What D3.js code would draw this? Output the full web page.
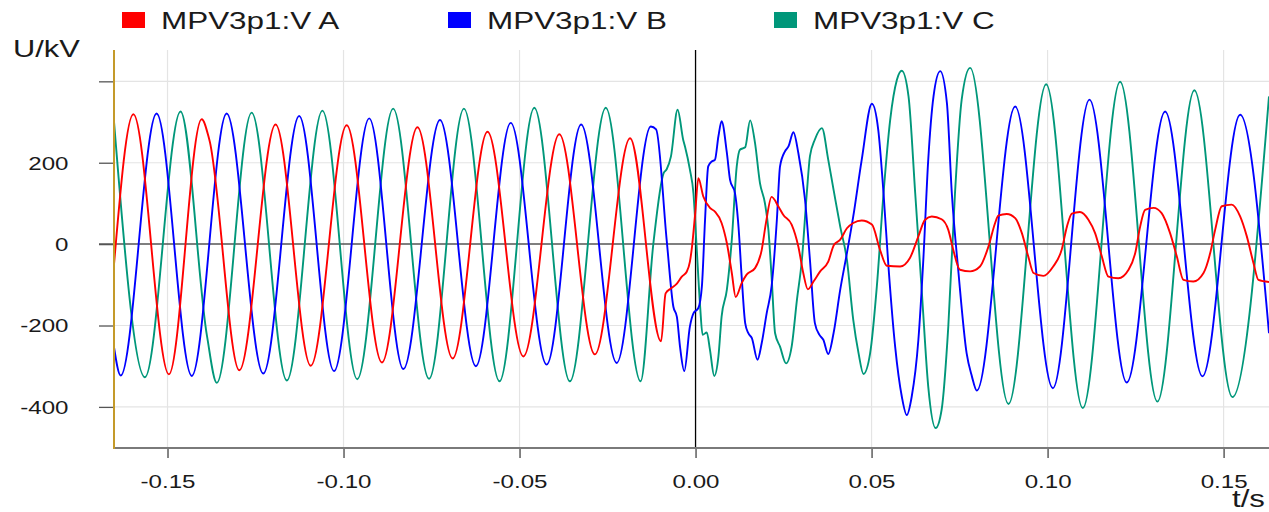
<!DOCTYPE html>
<html>
<head>
<meta charset="utf-8">
<title>MPV3p1 voltages</title>
<script src="https://d3js.org/d3.v7.min.js"></script>
<style>
  body { margin: 0; background: #fff; }
  text { font-family: "Liberation Sans", Arial, sans-serif; fill: #1a1a1a; }
</style>
</head>
<body>
<svg id="chart" width="1269" height="512"></svg>
<script>
// [t in s, U in kV]
var phaseA = [
  [-0.1652,-50],[-0.1597,319],[-0.1496,-320],[-0.1403,307],[-0.1381,256],[-0.1296,-310],[-0.1193,294],
  [-0.1093,-299],[-0.0991,292],[-0.0891,-291],[-0.0790,287],[-0.0690,-281],[-0.0591,276],[-0.0489,-276],
  [-0.0387,270],[-0.0286,-271],[-0.0186,260],[-0.0098,-239],[-0.0085,-121],[-0.0070,-109],[-0.0053,-97],
  [-0.0039,-80],[-0.0025,-68],[-0.0016,-43],[-0.0010,-6],[-0.0001,76],[0.0008,162],[0.0022,117],
  [0.0041,89],[0.0055,80],[0.0074,52],[0.0089,2],[0.0103,-71],[0.0114,-130],[0.0131,-96],[0.0145,-75],
  [0.0169,-59],[0.0188,-14],[0.0200,52],[0.0216,116],[0.0235,93],[0.0249,72],[0.0273,48],[0.0292,-6],
  [0.0306,-71],[0.0319,-111],[0.0335,-92],[0.0354,-67],[0.0377,-43],[0.0393,-2],[0.0411,11],[0.0430,39],
  [0.0448,52],[0.0472,58],[0.0501,48],[0.0524,-14],[0.0543,-53],[0.0581,-55],[0.0609,-34],[0.0633,19],
  [0.0652,60],[0.0671,68],[0.0699,61],[0.0718,35],[0.0732,-14],[0.0751,-63],[0.0780,-67],[0.0808,-55],
  [0.0832,-6],[0.0851,52],[0.0860,70],[0.0884,74],[0.0908,64],[0.0927,27],[0.0945,-30],[0.0960,-71],
  [0.0988,-78],[0.1016,-55],[0.1040,-14],[0.1055,43],[0.1069,75],[0.1092,79],[0.1116,60],[0.1135,27],
  [0.1154,-30],[0.1173,-80],[0.1201,-84],[0.1230,-63],[0.1249,-22],[0.1263,43],[0.1277,84],[0.1301,89],
  [0.1324,76],[0.1348,27],[0.1367,-30],[0.1386,-88],[0.1414,-92],[0.1443,-71],[0.1462,-22],[0.1476,35],
  [0.1495,93],[0.1523,97],[0.1547,68],[0.1566,19],[0.1585,-47],[0.1599,-88],[0.1629,-93]
];
var phaseB = [
  [-0.1652,-253],[-0.1633,-323],[-0.1531,321],[-0.1431,-324],[-0.1332,321],[-0.1228,-318],[-0.1126,315],
  [-0.1027,-312],[-0.0927,309],[-0.0830,-307],[-0.0726,305],[-0.0624,-300],[-0.0525,298],[-0.0423,-296],
  [-0.0325,294],[-0.0224,-292],[-0.0127,289],[-0.0112,282],[-0.0082,10],[-0.0063,-154],[-0.0053,-179],
  [-0.0044,-253],[-0.0032,-312],[-0.0016,-202],[-0.0006,-170],[0.0008,-157],[0.0018,-104],[0.0027,60],
  [0.0036,191],[0.0046,203],[0.0055,207],[0.0065,265],[0.0074,302],[0.0089,224],[0.0098,158],[0.0112,125],
  [0.0122,43],[0.0131,-80],[0.0141,-194],[0.0150,-219],[0.0160,-231],[0.0176,-284],[0.0188,-243],
  [0.0202,-170],[0.0216,-104],[0.0231,60],[0.0240,191],[0.0254,228],[0.0264,240],[0.0278,275],[0.0292,224],
  [0.0311,109],[0.0325,-39],[0.0339,-194],[0.0352,-223],[0.0363,-235],[0.0377,-270],[0.0392,-219],
  [0.0411,-112],[0.0430,-22],[0.0448,68],[0.0472,207],[0.0501,345],[0.0519,281],[0.0534,125],[0.0548,-55],
  [0.0567,-252],[0.0586,-375],[0.0600,-420],[0.0614,-375],[0.0633,-235],[0.0647,-39],[0.0661,207],
  [0.0676,363],[0.0695,425],[0.0714,347],[0.0728,125],[0.0747,-71],[0.0770,-268],[0.0785,-325],[0.0799,-360],
  [0.0908,338],[0.1015,-354],[0.1119,355],[0.1225,-340],[0.1334,326],[0.1440,-325],[0.1547,318],[0.1629,-219]
];
var phaseC = [
  [-0.1652,301],[-0.1564,-327],[-0.1463,326],[-0.1388,-225],[-0.1360,-341],[-0.1261,323],[-0.1161,-335],
  [-0.1060,328],[-0.0961,-332],[-0.0859,333],[-0.0757,-331],[-0.0658,333],[-0.0557,-337],[-0.0458,335],
  [-0.0357,-337],[-0.0255,335],[-0.0156,-337],[-0.0120,0],[-0.0091,174],[-0.0082,184],[-0.0070,215],
  [-0.0051,330],[-0.0035,256],[-0.0030,240],[-0.0016,183],[-0.0006,125],[0.0003,-6],[0.0013,-153],
  [0.0020,-223],[0.0032,-217],[0.0041,-260],[0.0053,-324],[0.0065,-276],[0.0074,-178],[0.0089,-112],
  [0.0103,11],[0.0117,191],[0.0126,232],[0.0141,238],[0.0155,304],[0.0169,248],[0.0183,150],[0.0197,101],
  [0.0207,35],[0.0216,-80],[0.0226,-219],[0.0240,-252],[0.0257,-293],[0.0273,-252],[0.0288,-137],
  [0.0302,-39],[0.0316,125],[0.0325,216],[0.0339,257],[0.0359,285],[0.0377,207],[0.0392,134],[0.0411,43],
  [0.0430,-39],[0.0448,-186],[0.0463,-268],[0.0477,-319],[0.0496,-268],[0.0515,-104],[0.0534,125],
  [0.0553,306],[0.0572,404],[0.0586,426],[0.0605,363],[0.0624,125],[0.0643,-120],[0.0661,-350],
  [0.0682,-452],[0.0699,-407],[0.0718,-202],[0.0737,125],[0.0756,355],[0.0780,433],[0.0889,-393],
  [0.0996,393],[0.1100,-403],[0.1206,399],[0.1312,-387],[0.1417,378],[0.1525,-376],[0.1629,363]
];

var seriesNames = ["MPV3p1:V A", "MPV3p1:V B", "MPV3p1:V C"];
var seriesColors = ["#ff0000", "#0000ff", "#00977a"];
var xTicks = [-0.15, -0.10, -0.05, 0.00, 0.05, 0.10, 0.15];
var yTicks = [-400, -200, 0, 200, 400];

var svg = d3.select("#chart");
var plotLeft = 114, plotRight = 1269, plotTop = 50, plotBottom = 448;
var stretch = 1.34; // the original text is drawn wide

var x = d3.scaleLinear().domain([-0.1652, 0.1629]).range([plotLeft, plotRight]);
var y = d3.scaleLinear().domain([-501, 477]).range([plotBottom, plotTop]);

// grid
svg.append("g").selectAll("line").data(yTicks.filter(function (d) { return d !== 0; }))
  .enter().append("line")
  .attr("x1", plotLeft).attr("x2", plotRight)
  .attr("y1", function (d) { return y(d); }).attr("y2", function (d) { return y(d); })
  .attr("stroke", "#e4e4e4").attr("stroke-width", 1.2);
svg.append("g").selectAll("line").data(xTicks.filter(function (d) { return d !== 0; }))
  .enter().append("line")
  .attr("x1", function (d) { return x(d); }).attr("x2", function (d) { return x(d); })
  .attr("y1", plotTop).attr("y2", plotBottom)
  .attr("stroke", "#e4e4e4").attr("stroke-width", 1.2);

// y axis: ticks + labels
var yAxis = d3.axisLeft(y).tickValues(yTicks).tickSize(15)
  .tickFormat(function (d) { return d === 400 ? "" : String(d); });
var gy = svg.append("g").attr("transform", "translate(" + plotLeft + ",0)").call(yAxis);
gy.select(".domain").remove();
gy.selectAll(".tick line").attr("stroke", "#555").attr("stroke-width", 1.3);
gy.selectAll(".tick text")
  .attr("x", 0).attr("dy", "0.36em")
  .attr("transform", "translate(-45.5,0) scale(" + stretch + ",1)")
  .attr("font-size", 18).attr("fill", "#1a1a1a")
  .attr("font-family", "'Liberation Sans', Arial, sans-serif");

// x axis
var xAxis = d3.axisBottom(x).tickValues(xTicks).tickSize(10)
  .tickFormat(function (d) { return d3.format(".2f")(d).replace("\u2212", "-"); });
var gx = svg.append("g").attr("transform", "translate(0," + plotBottom + ")").call(xAxis);
gx.select(".domain").remove();
gx.selectAll(".tick line").attr("stroke", "#444").attr("stroke-width", 1.3);
gx.selectAll(".tick text")
  .attr("y", 0).attr("dy", 0)
  .attr("transform", "translate(0,40) scale(" + stretch + ",1)")
  .attr("font-size", 18).attr("fill", "#1a1a1a")
  .attr("font-family", "'Liberation Sans', Arial, sans-serif");

// zero line and t = 0 marker
svg.append("line").attr("x1", 99).attr("x2", plotRight).attr("y1", y(0)).attr("y2", y(0))
  .attr("stroke", "#555").attr("stroke-width", 1.5);
svg.append("line").attr("x1", x(0)).attr("x2", x(0)).attr("y1", plotTop).attr("y2", plotBottom)
  .attr("stroke", "#000").attr("stroke-width", 1.3);

// curves
svg.append("clipPath").attr("id", "plot-clip").append("rect")
  .attr("x", plotLeft).attr("y", plotTop)
  .attr("width", plotRight - plotLeft).attr("height", plotBottom - plotTop);

var line = d3.line()
  .x(function (d) { return x(d[0]); })
  .y(function (d) { return y(d[1]); })
  .curve(d3.curveMonotoneX);

var plot = svg.append("g").attr("clip-path", "url(#plot-clip)");
[phaseC, phaseB, phaseA].forEach(function (data, i) {
  plot.append("path").datum(data)
    .attr("d", line)
    .attr("fill", "none")
    .attr("stroke", seriesColors[2 - i])
    .attr("stroke-width", 1.9)
    .attr("stroke-linejoin", "round");
});

// axis frame lines
svg.append("line").attr("x1", plotLeft).attr("x2", plotRight).attr("y1", plotBottom).attr("y2", plotBottom)
  .attr("stroke", "#7a7a7a").attr("stroke-width", 2);
svg.append("line").attr("x1", plotLeft).attr("x2", plotLeft).attr("y1", plotTop).attr("y2", plotBottom + 1)
  .attr("stroke", "#c49a2a").attr("stroke-width", 2);

// axis titles
svg.append("text").attr("transform", "translate(13,57) scale(" + stretch + ",1)")
  .attr("font-size", 23).text("U/kV");
svg.append("text").attr("transform", "translate(1232,507) scale(1.3,1)")
  .attr("font-size", 24).text("t/s");

// legend
var legend = svg.append("g").selectAll("g").data(seriesNames).enter().append("g")
  .attr("transform", function (d, i) { return "translate(" + (122 + i * 326) + ",0)"; });
legend.append("rect").attr("x", 0).attr("y", 12).attr("width", 23).attr("height", 16)
  .attr("fill", function (d, i) { return seriesColors[i]; });
legend.append("text").attr("transform", "translate(39,29) scale(1.31,1)").attr("font-size", 24)
  .text(function (d) { return d; });
</script>
</body>
</html>
